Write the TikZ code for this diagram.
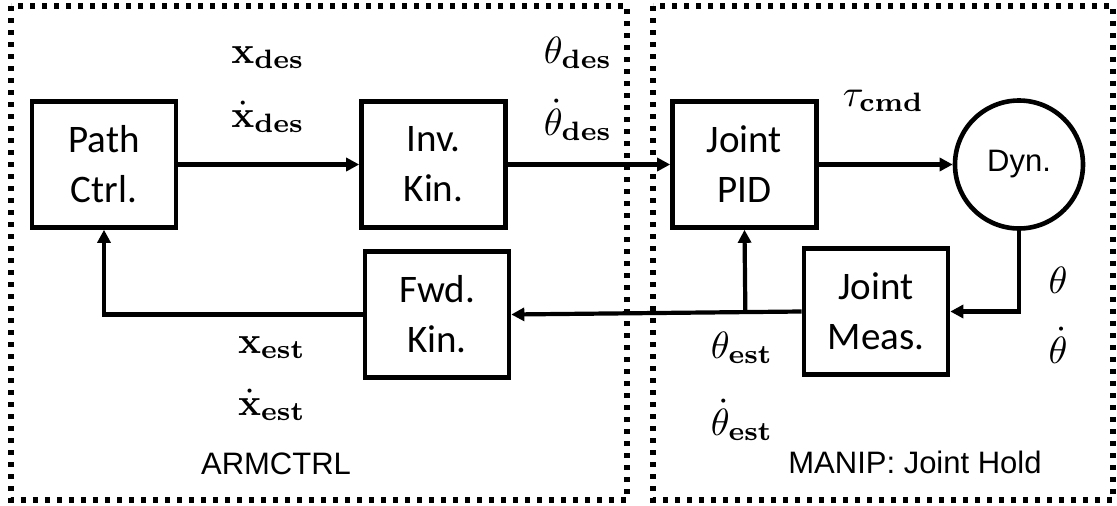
\RequirePackage{fix-cm}
\documentclass[tikz,border=0pt]{standalone}
\usepackage{fontspec}
\newfontfamily\boxfont{Carlito}
\newfontfamily\arialfont{Liberation Sans}
\usetikzlibrary{arrows.meta,calc}
\DeclareMathAlphabet{\mbcm}{OT1}{cmr}{bx}{n}
\DeclareMathSizes{10}{10}{7}{5}
\tikzset{
  dotbox/.style={line width=5.2pt, dash pattern=on 5.2pt off 6.8pt},
  blk/.style={draw, line width=4.6pt, minimum width=144pt, minimum height=126pt,
    inner sep=0pt, align=center, font=\boxfont\fontsize{39}{50}\selectfont},
  dynnode/.style={draw, circle, line width=4.6pt, minimum size=128pt, inner sep=0pt,
    font=\arialfont\fontsize{31}{37}\selectfont},
  arr/.style={line width=4.2pt, -{Triangle[length=13pt,width=13pt]}},
  lbl/.style={inner sep=0pt, scale=3.8, font=\fontsize{10}{12}\selectfont},
  captxt/.style={inner sep=0pt, font=\arialfont\fontsize{31}{37}\selectfont}
}
\begin{document}
\begin{tikzpicture}[x=1pt,y=-1pt]
\useasboundingbox (0,0) rectangle (1117,506);
\fill[white] (0,0) rectangle (1117,506);
\draw[dotbox] (11,6) rectangle (627,500);
\draw[dotbox] (653,6) rectangle (1113,500);

\node[blk] (path) at (104,164.5) {Path\\Ctrl.};
\node[blk] (inv) at (433.5,164.5) {Inv.\\Kin.};
\node[blk] (pid) at (744.5,164.5) {Joint\\PID};
\node[dynnode] (dyn) at (1019,164.5) {Dyn.};
\node[blk] (fwd) at (437,314.5) {Fwd.\\Kin.};
\node[blk] (meas) at (876,311.5) {Joint\\Meas.};

\draw[arr] (path) -- (inv);
\draw[arr] (inv) -- (pid);
\draw[arr] (pid) -- (dyn);
\draw[arr] (dyn.south) |- (meas.east);
\draw[arr] (meas.west) -- (fwd.east);
\coordinate (br) at ($(meas.west)!(pid.south)!(fwd.east)$);
\draw[arr] (br) -- (pid.south);
\draw[arr] (fwd.west) -| (path.south);

\node[lbl, anchor=base] (xd) at (268,63) {$\mbcm{x}_{\mbcm{des}}$};
\node[lbl, anchor=base] (xdd) at (268,127) {$\dot{\mbcm{x}}_{\mbcm{des}}$};
\node[lbl, anchor=base] (td) at (578,63) {$\theta_{\mbcm{des}}$};
\node[lbl, anchor=base] (tdd) at (578,135) {$\dot{\theta}_{\mbcm{des}}$};
\node[lbl, anchor=base west] (tau) at (842,106) {$\tau_{\mbcm{cmd}}$};
\node[lbl, anchor=base] (th) at (1058,293) {$\theta$};
\node[lbl, anchor=base] (thd) at (1058,363) {$\dot{\theta}$};
\node[lbl, anchor=base west] (te) at (710,358) {$\theta_{\mbcm{est}}$};
\node[lbl, anchor=base west] (ted) at (710,435) {$\dot{\theta}_{\mbcm{est}}$};
\node[lbl, anchor=base] (xe) at (272,353) {$\mbcm{x}_{\mbcm{est}}$};
\node[lbl, anchor=base] (xed) at (272,415) {$\dot{\mbcm{x}}_{\mbcm{est}}$};

\node[captxt, anchor=base] (arm) at (276,474) {ARMCTRL};
\node[captxt, anchor=base] (man) at (915,473) {MANIP: Joint Hold};
\end{tikzpicture}
\end{document}
